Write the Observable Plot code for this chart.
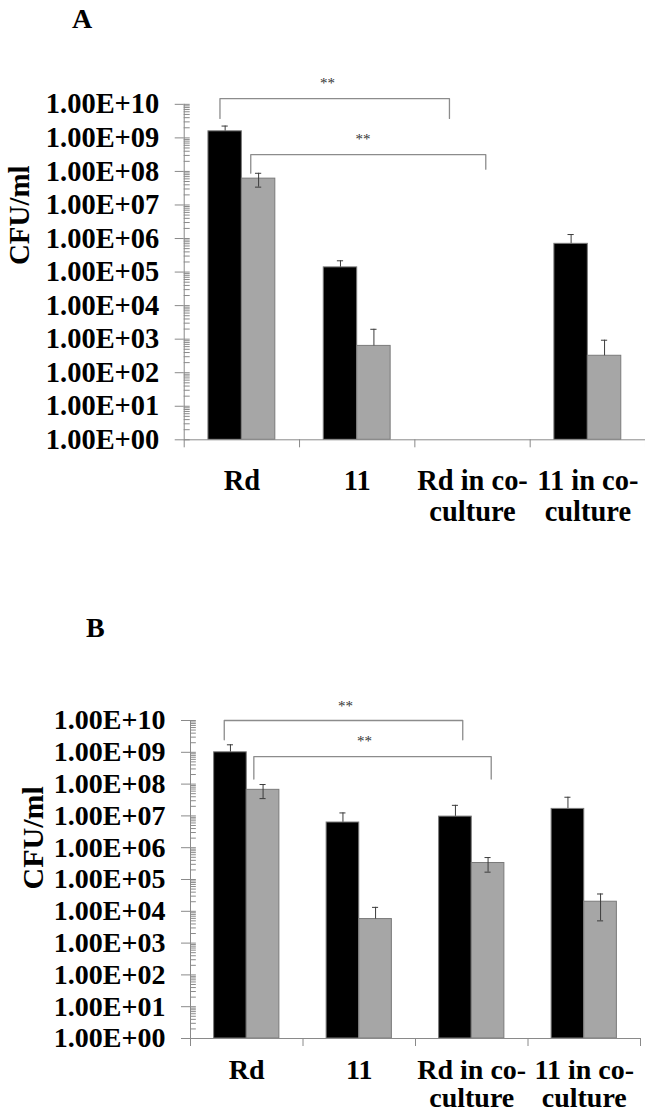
<!DOCTYPE html>
<html>
<head>
<meta charset="utf-8">
<script src="https://cdn.jsdelivr.net/npm/d3@7"></script>
<script src="https://cdn.jsdelivr.net/npm/@observablehq/plot@0.6"></script>
<style>
  html, body { margin: 0; padding: 0; background: #fff; }
  body { position: relative; width: 645px; height: 1116px; overflow: hidden;
         font-family: "Liberation Serif", "Times New Roman", serif; }
  .panel { position: absolute; left: 0; overflow: hidden; width: 645px; }
  .tag { position: absolute; z-index: 2; font-weight: bold; font-size: 28px; line-height: 1; color: #000; }
</style>
</head>
<body>
<div class="panel" id="panelA" style="top:0px; height:560px;"></div>
<div class="panel" id="panelB" style="top:580px; height:536px;"></div>
<div class="tag" style="left:72px; top:5px;">A</div>
<div class="tag" style="left:86px; top:614px;">B</div>
<script>
// Categories along the x axis (line breaks as printed)
const categories = ["Rd", "11", "Rd in co-\nculture", "11 in co-\nculture"];

// Panel A — CFU/ml, dark and light series, with standard deviations
const aDark      = [1.57e9, 1.38e5, null, 6.95e5];
const aDarkErr   = [6.8e8,  7.9e4,  null, 6.2e5];
const aLight     = [6.1e7,  6.3e2,  null, 3.2e2];
const aLightErr  = [2.7e7,  1.34e3, null, 6.1e2];

// Panel B — CFU/ml, dark and light series, with standard deviations
const bDark      = [1.0e9,  6.2e6,  9.5e6,  1.66e7];
const bDarkErr   = [7.2e8,  6.2e6,  1.2e7,  2.2e7];
const bLight     = [6.6e7,  5.7e3,  3.3e5,  2.0e4];
const bLightErr  = [3.1e7,  7.6e3,  1.6e5,  1.5e4];

// Y axis decades and their labels
const decades = d3.range(0, 11).map(k => 10 ** k);
const decadeLabels = d3.range(0, 11).map(k => "1.00E+" + String(k).padStart(2, "0"));

// Significance brackets (x in category units, y in CFU/ml)
const aBrackets = [
  {from: 0.31, to: 2.30, top: 1.48e10, endFrom: 3.8e9, endTo: 3.8e9},
  {from: 0.577, to: 2.615, top: 3.16e8, endFrom: 8.9e7, endTo: 1.17e8}
];
const aStars = [{x: 1.242, y: 4.3e10, label: "**"}, {x: 1.55, y: 9.1e8, label: "**"}];
const bBrackets = [
  {from: 0.30, to: 2.42, top: 1.0e10, endFrom: 2.46e9, endTo: 2.46e9},
  {from: 0.563, to: 2.673, top: 7.36e8, endFrom: 1.44e8, endTo: 1.44e8}
];
const bStars = [{x: 1.378, y: 2.75e10, label: "**"}, {x: 1.547, y: 2.24e9, label: "**"}];

// Bar slot within each category (fraction of the category width)
const slot = {dark: [0.21, 0.5], light: [0.5, 0.79]};
const capHalf = 0.027;

function drawPanel(cfg) {
  const rows = [];
  categories.forEach((c, i) => {
    if (cfg.dark[i] != null) rows.push({cat: i, series: "dark", value: cfg.dark[i], err: cfg.darkErr[i]});
    if (cfg.light[i] != null) rows.push({cat: i, series: "light", value: cfg.light[i], err: cfg.lightErr[i]});
  });
  rows.forEach(d => {
    d.x1 = d.cat + slot[d.series][0];
    d.x2 = d.cat + slot[d.series][1];
    d.cx = (d.x1 + d.x2) / 2;
    d.hi = d.value + d.err;
    d.lo = d.value - d.err > 0 ? d.value - d.err : d.value;
    d.hasLo = d.value - d.err > 0;
  });
  const darkRows = rows.filter(d => d.series === "dark");
  const lightRows = rows.filter(d => d.series === "light");

  const minor = [];
  for (let k = 0; k < 10; k++) for (let m = 1; m <= 9; m++) minor.push(m * 10 ** k);
  minor.push(1e10);

  const bracketPts = cfg.brackets.flatMap((b, j) => [
    {id: j, x: b.from, y: b.endFrom},
    {id: j, x: b.from, y: b.top},
    {id: j, x: b.to, y: b.top},
    {id: j, x: b.to, y: b.endTo}
  ]);

  const axisGray = "#8a8a8a";
  const errColor = "#3c3c3c";
  const errorMarks = (data) => [
    Plot.ruleX(data, {x: "cx", y1: "lo", y2: "hi", stroke: errColor, strokeWidth: 1}),
    Plot.ruleY(data, {y: "hi", x1: d => d.cx - capHalf, x2: d => d.cx + capHalf, stroke: errColor, strokeWidth: 1}),
    Plot.ruleY(data.filter(d => d.hasLo), {y: "lo", x1: d => d.cx - capHalf, x2: d => d.cx + capHalf, stroke: errColor, strokeWidth: 1})
  ];

  return Plot.plot({
    width: cfg.width,
    height: cfg.height,
    marginLeft: cfg.marginLeft,
    marginRight: cfg.marginRight,
    marginTop: cfg.marginTop,
    marginBottom: cfg.marginBottom,
    style: {fontFamily: "'Liberation Serif', 'Times New Roman', serif", background: "#fff", color: "#000", overflow: "visible"},
    x: {domain: [0, 4], axis: null},
    y: {type: "log", domain: [1, 1e10], axis: null},
    color: {domain: ["dark", "light"], range: ["#000000", "#a6a6a6"]},
    marks: [
      // error bars of the dark series sit behind their bars
      ...errorMarks(darkRows),
      // bars
      Plot.rectY(rows, {x1: "x1", x2: "x2", y1: 1, y2: "value", fill: "series", stroke: "#7a7a7a", strokeWidth: 1}),
      ...errorMarks(lightRows),
      // y axis line, minor ticks inside, major ticks and labels outside
      Plot.ruleX([0], {stroke: axisGray, strokeWidth: 1}),
      Plot.ruleY(minor, {x1: 0, x2: 0.052, stroke: axisGray, strokeWidth: 1}),
      Plot.axisY({
        ticks: decades, tickSize: 9, tickPadding: 16,
        tickFormat: v => decadeLabels[Math.round(Math.log10(v))],
        stroke: axisGray, fill: "#000", fontSize: cfg.tickFont, fontWeight: "bold"
      }),
      // x axis line and category boundary ticks
      Plot.ruleY([1], {x1: 0, x2: 4, stroke: axisGray, strokeWidth: 1}),
      Plot.axisX({ticks: [0, 1, 2, 3, 4], tickSize: 8, tickFormat: () => "", stroke: axisGray}),
      // category labels
      Plot.text(categories, {
        x: (d, i) => i + 0.5, y: 1, text: d => d, lineAnchor: "top", dy: cfg.catDy,
        fontSize: cfg.catFont, fontWeight: "bold", lineHeight: cfg.catLine, fill: "#000"
      }),
      // y axis title
      Plot.text(["CFU/ml"], {
        frameAnchor: "left", rotate: -90, dx: cfg.titleDx, dy: cfg.titleDy,
        fontSize: cfg.titleFont, fontWeight: "bold", fill: "#000"
      }),
      // significance brackets and stars
      Plot.line(bracketPts, {x: "x", y: "y", z: "id", stroke: "#8c8c8c", strokeWidth: 1.3, curve: "linear"}),
      Plot.text(cfg.stars, {x: "x", y: "y", text: d => d.label, fontSize: 15, fill: "#333", lineAnchor: "middle"})
    ]
  });
}

document.getElementById("panelA").append(drawPanel({
  dark: aDark, darkErr: aDarkErr, light: aLight, lightErr: aLightErr,
  brackets: aBrackets, stars: aStars,
  width: 646, height: 560, marginLeft: 184, marginRight: 0, marginTop: 104, marginBottom: 120,
  tickFont: 28.5, catFont: 28.5, catDy: 28, catLine: 1.1, titleFont: 29, titleDx: -164.5, titleDy: -7
}));

document.getElementById("panelB").append(drawPanel({
  dark: bDark, darkErr: bDarkErr, light: bLight, lightErr: bLightErr,
  brackets: bBrackets, stars: bStars,
  width: 645, height: 536, marginLeft: 190, marginRight: 5, marginTop: 140, marginBottom: 78,
  tickFont: 28, catFont: 28, catDy: 21, catLine: 1.0, titleFont: 30, titleDx: -157, titleDy: 10
}));
</script>
</body>
</html>
